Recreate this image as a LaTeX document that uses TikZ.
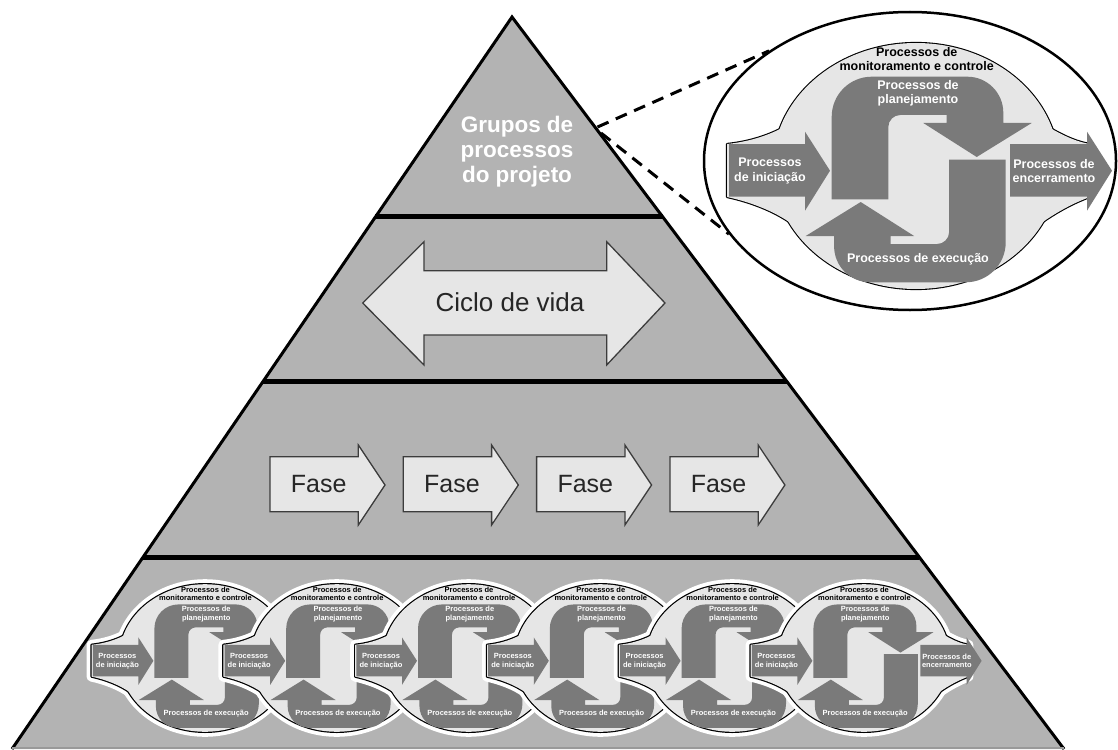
\documentclass[tikz,border=0pt]{standalone}
\usepackage{fontspec}
\setmainfont{Liberation Sans}
\usetikzlibrary{shapes.geometric,calc}

\definecolor{pyrfill}{HTML}{B3B3B3}
\definecolor{paleface}{HTML}{E6E6E6}
\definecolor{procdark}{HTML}{7A7A7A}
\definecolor{rimgray}{HTML}{3C3C3C}

\tikzset{
  pyredge/.style={line width=3pt},
  bandline/.style={line width=5pt},
  blockarrow/.style={fill=paleface, draw=rimgray, line width=1.3pt, line join=miter},
  bigtext/.style={font=\fontsize{26}{28}\selectfont, text=black!85, inner sep=0pt},
  phasetext/.style={font=\fontsize{25}{27}\selectfont, text=black!85, inner sep=0pt},
  toptext/.style={font=\bfseries\fontsize{22.5}{25}\selectfont, text=white, align=center, inner sep=0pt},
  proclabel/.style={font=\bfseries\fontsize{12.5}{14.5}\selectfont, text=white, align=center, inner sep=0pt},
  monlabel/.style={proclabel, text=black},
  zoomlink/.style={line width=3pt, dash pattern=on 12pt off 8pt},
}

% light region of a process cycle: central ellipse plus the two side flares
\newcommand{\procregion}[1]{%
  \path[#1] (0,0) ellipse [x radius=143, y radius=123];
  \path[#1] (-100,-30) -- (-136,-37) .. controls (-152,-29) and (-170,-24) .. (-189,-22)
        -- (-189,31) .. controls (-166,36) and (-142,45) .. (-124,58) -- (-100,40) -- cycle;
  \path[#1] (100,-30) -- (136,-37) .. controls (150,-29) and (162,-24) .. (174,-22)
        -- (174,31) .. controls (160,36) and (142,45) .. (124,58) -- (100,40) -- cycle;
}

% hooked arrow of the planning group (rotated half-turn for execution)
\newcommand{\hookarrow}[1]{%
  \path[#1] (-84.3,33.3) -- (-84.3,-49.3)
    .. controls (-84.3,-71.4) and (-66.4,-89.3) .. (-44.3,-89.3)
    -- (51.3,-89.3)
    .. controls (71.2,-89.3) and (87.3,-73.2) .. (87.3,-53.3)
    -- (87.3,-43) -- (115.7,-43) -- (60.7,-9) -- (7.3,-43) -- (30.7,-43) -- (30.7,-51)
    -- (-15.7,-51) .. controls (-22.3,-51) and (-27.7,-45.6) .. (-27.7,-39)
    -- (-27.7,33.3) -- cycle;
}

% one cycle of process groups: #1 halo width, #2 rim width, #3 closing arrow (1 = yes), #4 name prefix
\newcommand{\proccycle}[4]{%
  \ifdim#1pt>0pt \procregion{draw=white, line width=#1pt, line join=round}\fi
  \procregion{draw=black, line width=#2pt, line join=round}
  \procregion{fill=paleface}
  \hookarrow{fill=procdark}
  \begin{scope}[rotate around={180:(2.7,13.5)}]
    \hookarrow{fill=procdark}
  \end{scope}
  \path[fill=procdark] (-187,-22) -- (-111,-22) -- (-111,-34.3) -- (-86,4.7)
    -- (-111,44.7) -- (-111,30.7) -- (-187,30.7) -- cycle;
  \ifnum#3=1
    \path[fill=procdark] (94,-22) -- (171,-22) -- (171,-34.3) -- (196,4.7)
      -- (171,44.7) -- (171,30.7) -- (94,30.7) -- cycle;
    \node[proclabel] (#4-end) at (138,4.8) {Processos de\\encerramento};
  \fi
  \node[monlabel] (#4-mon) at (0.7,-106.8) {Processos de\\monitoramento e controle};
  \node[proclabel] (#4-plan) at (2,-72.7) {Processos de\\planejamento};
  \node[proclabel] (#4-exec) at (2,93.3) {Processos de execução};
  \node[proclabel] (#4-init) at (-146,4.8) {Processos\\de iniciação};
}

\begin{document}
\begin{tikzpicture}[x=1pt, y=-1pt]
\useasboundingbox (0,0) rectangle (1118,749);

% pyramid
\coordinate (apex) at (512,17);
\coordinate (bl) at (12,749);
\coordinate (br) at (1064,749);
\fill[pyrfill] (apex) -- (bl) -- (br) -- cycle;
\foreach \t in {0.2732,0.4986,0.7377}
  \draw[bandline] ($(apex)!\t!(bl)$) -- ($(apex)!\t!(br)$);
\draw[pyredge] (bl) -- (apex) -- (br);
\draw[line width=1.5pt, black!40] (12,748.2) -- (1064,748.2);

% top band
\node[toptext] (grupos) at (517,152) {Grupos de\\processos\\do projeto};

% life cycle double arrow
\path[blockarrow] (362.7,303) -- (424,241.7) -- (424,270.7) -- (606.7,270.7) -- (606.7,241.7)
  -- (665,303) -- (606.7,365) -- (606.7,335) -- (424,335) -- (424,365) -- cycle;
\node[bigtext] (ciclo) at (510,302) {Ciclo de vida};

% phases
\foreach \k in {0,...,3} {
  \pgfmathsetmacro\xa{270+133.3*\k}
  \path[blockarrow] (\xa,456.7) -- ({\xa+88.3},456.7) -- ({\xa+88.3},445) -- ({\xa+115},485)
    -- ({\xa+88.3},525) -- ({\xa+88.3},511.7) -- (\xa,511.7) -- cycle;
  \node[phasetext] (fase\k) at ({\xa+48.7},484) {Fase};
}

% enlarged view of the process groups
\node[draw=black, line width=2.5pt, fill=white, ellipse, minimum width=412pt,
      minimum height=298pt, inner sep=0pt] (zoomel) at (910,161) {};
\coordinate (zA) at (597.5,127);
\coordinate (zB) at (601,133);
\draw[zoomlink] (zA) -- (zoomel.142);
\draw[zoomlink] (zB) -- (zoomel.202);
\begin{scope}[shift={(916,166)}]
  \proccycle{0}{2.2}{1}{big}
\end{scope}

% chain of process cycles along the base
\foreach \k in {0,...,5} {
  \pgfmathsetmacro\cx{205+131.8*\k}
  \begin{scope}[shift={(\cx,658)}, scale=0.6, transform shape]
    \ifnum\k=5
      \proccycle{10}{2.4}{1}{m\k}
    \else
      \proccycle{10}{2.4}{0}{m\k}
    \fi
  \end{scope}
}
\end{tikzpicture}
\end{document}
